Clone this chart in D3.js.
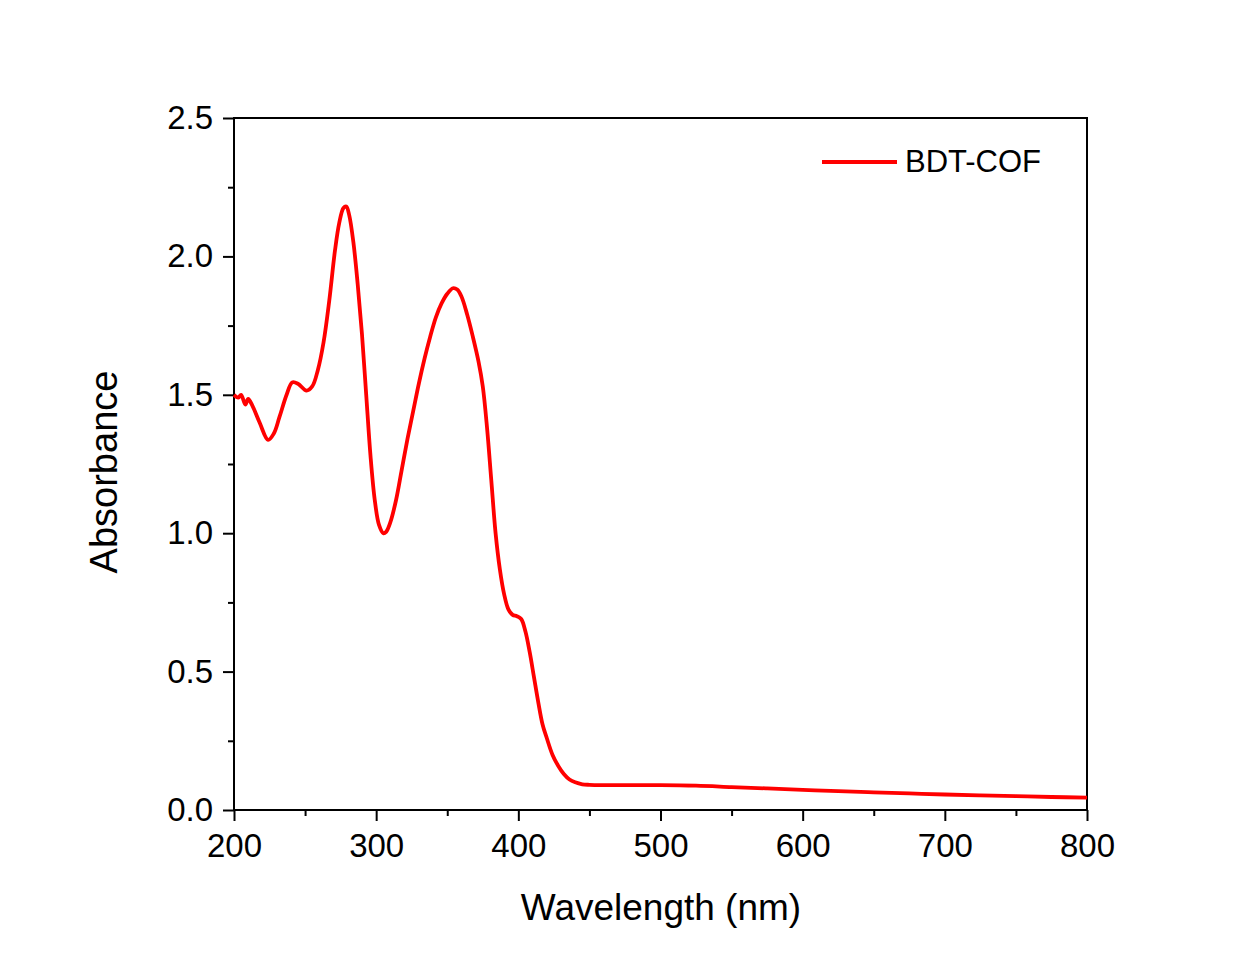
<!DOCTYPE html>
<html>
<head>
<meta charset="utf-8">
<script src="https://cdn.jsdelivr.net/npm/d3@7"></script>
<style>
  body { margin: 0; background: #fff; }
  text { font-family: "Liberation Sans", Arial, sans-serif; fill: #000; }
</style>
</head>
<body>
<div id="chart"></div>
<script>
// Wavelength (nm) and absorbance
var wavelength = [200, 203, 205, 208, 210, 213, 218, 224, 228, 232, 237, 241, 245, 251, 255, 259, 263, 267, 271, 274, 277, 279, 281, 284, 287, 290, 293, 296, 299, 302, 305, 307, 310, 314, 318, 322, 326, 330, 334, 338, 342, 346, 350, 354, 357, 360, 364, 368, 372, 375, 378, 381, 384, 387, 390, 393, 396, 399, 402, 405, 408, 411, 414, 417, 420, 424, 428, 432, 436, 440, 445, 450, 460, 480, 500, 525, 550, 575, 600, 625, 650, 675, 700, 725, 750, 775, 800];
var absorbance = [1.50, 1.49, 1.50, 1.465, 1.485, 1.46, 1.40, 1.337, 1.36, 1.42, 1.50, 1.545, 1.54, 1.515, 1.53, 1.59, 1.69, 1.84, 2.02, 2.12, 2.175, 2.18, 2.15, 2.05, 1.90, 1.72, 1.50, 1.28, 1.12, 1.03, 1.00, 1.005, 1.04, 1.12, 1.23, 1.34, 1.44, 1.54, 1.63, 1.71, 1.78, 1.83, 1.865, 1.885, 1.88, 1.855, 1.79, 1.71, 1.62, 1.53, 1.38, 1.19, 1.00, 0.87, 0.78, 0.725, 0.705, 0.70, 0.69, 0.645, 0.57, 0.48, 0.39, 0.31, 0.26, 0.20, 0.16, 0.13, 0.11, 0.10, 0.093, 0.091, 0.09, 0.09, 0.09, 0.088, 0.083, 0.078, 0.073, 0.068, 0.064, 0.060, 0.056, 0.053, 0.050, 0.047, 0.045];
var seriesName = "BDT-COF";
var xTicks = [200, 300, 400, 500, 600, 700, 800];
var yTicks = [0.0, 0.5, 1.0, 1.5, 2.0, 2.5];

var w = 1249, h = 963;
var margin = {left: 234, right: 162, top: 118, bottom: 153};

var svg = d3.select("#chart").append("svg")
    .attr("width", w)
    .attr("height", h);

var xScale = d3.scaleLinear().domain([200, 800]).range([margin.left, w - margin.right]);
var yScale = d3.scaleLinear().domain([0, 2.5]).range([h - margin.bottom, margin.top]);

var data = wavelength.map((x, i) => ({x: x, y: absorbance[i]}));

// frame
svg.append("rect")
    .attr("x", xScale(200))
    .attr("y", yScale(2.5))
    .attr("width", xScale(800) - xScale(200))
    .attr("height", yScale(0) - yScale(2.5))
    .attr("fill", "none")
    .attr("stroke", "#000")
    .attr("stroke-width", 2);

// minor ticks
var xMinor = d3.axisBottom(xScale).tickValues(d3.range(250, 800, 100)).tickSize(6).tickFormat("");
var yMinor = d3.axisLeft(yScale).tickValues(d3.range(0.25, 2.5, 0.5)).tickSize(6).tickFormat("");

svg.append("g")
    .attr("transform", `translate(0,${yScale(0)})`)
    .call(xMinor);
svg.append("g")
    .attr("transform", `translate(${xScale(200)},0)`)
    .call(yMinor);

// major axes
var xAxis = svg.append("g")
    .attr("transform", `translate(0,${yScale(0)})`)
    .call(d3.axisBottom(xScale).tickValues(xTicks).tickSize(11).tickPadding(13).tickFormat(d3.format("d")));
var yAxis = svg.append("g")
    .attr("transform", `translate(${xScale(200)},0)`)
    .call(d3.axisLeft(yScale).tickValues(yTicks).tickSize(11).tickPadding(10).tickFormat(d3.format(".1f")));

svg.selectAll(".domain").remove();
svg.selectAll(".tick line").attr("stroke", "#000").attr("stroke-width", 2);
xAxis.selectAll("text").style("font-size", "33px").attr("font-family", null);
yAxis.selectAll("text").style("font-size", "33px").attr("font-family", null);

// curve
var line = d3.line()
    .x(d => xScale(d.x))
    .y(d => yScale(d.y))
    .curve(d3.curveCatmullRom.alpha(0.5));

svg.append("path")
    .datum(data)
    .attr("fill", "none")
    .attr("stroke", "#ff0000")
    .attr("stroke-width", 3.8)
    .attr("stroke-linejoin", "round")
    .attr("d", line);

// axis titles
svg.append("text")
    .attr("x", 661)
    .attr("y", 920)
    .attr("text-anchor", "middle")
    .style("font-size", "37px")
    .text("Wavelength (nm)");

svg.append("text")
    .attr("transform", "translate(117,472) rotate(-90)")
    .attr("text-anchor", "middle")
    .style("font-size", "38px")
    .text("Absorbance");

// legend
svg.append("line")
    .attr("x1", 822).attr("x2", 897)
    .attr("y1", 162).attr("y2", 162)
    .attr("stroke", "#ff0000")
    .attr("stroke-width", 3.8);
svg.append("text")
    .attr("x", 905)
    .attr("y", 172)
    .style("font-size", "31px")
    .text(seriesName);
</script>
</body>
</html>
